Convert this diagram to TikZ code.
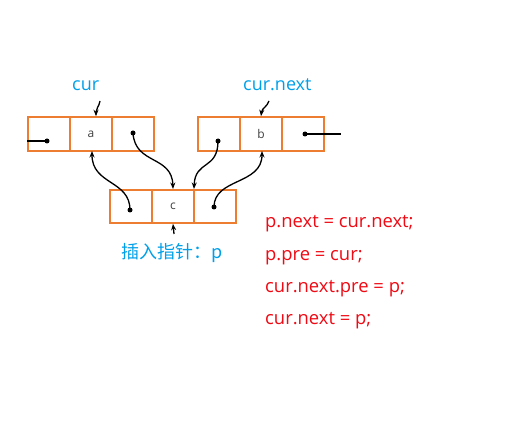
\documentclass[tikz,border=0pt]{standalone}
\usepackage{fontspec}
\setmainfont{Open Sans}
\newfontfamily\cjkfont{Noto Sans CJK SC}
\usetikzlibrary{arrows.meta}
\definecolor{boxorange}{RGB}{237,125,49}
\definecolor{lblblue}{RGB}{0,160,233}
\definecolor{codered}{RGB}{240,10,20}
\begin{document}
\begin{tikzpicture}[x=1pt,y=-1pt,
  cell/.style={draw=boxorange,line width=1.6pt,minimum width=42pt,minimum height=34pt,inner sep=0pt,font=\fontsize{12}{12}\selectfont,text=black!75},
  ptr/.style={line width=1.3pt,-{Stealth[length=6.5pt,width=5pt]}},
  plainline/.style={line width=1.3pt},
  dotc/.style={fill=black},
  bluelbl/.style={text=lblblue,font=\fontsize{18}{18}\selectfont,anchor=base west,inner sep=0pt},
  codeline/.style={text=codered,font=\fontsize{18.4}{18.4}\selectfont,anchor=base west,inner sep=0pt}]
\useasboundingbox[fill=white] (0,0) rectangle (518,435);
% node a
\node[cell] (a1) at (49,134) {};
\node[cell] (a2) at (91,134) {a};
\node[cell] (a3) at (133,134) {};
% node b
\node[cell] (b1) at (219,134) {};
\node[cell] (b2) at (261,134) {b};
\node[cell] (b3) at (303,134) {};
% node c
\node[cell,minimum height=33pt] (c1) at (131,206.5) {};
\node[cell,minimum height=33pt] (c2) at (173,206.5) {c};
\node[cell,minimum height=33pt] (c3) at (215,206.5) {};
% labels
\node[bluelbl] (curlbl) at (72,91) {cur};
\node[bluelbl] (nextlbl) at (243,91) {cur.next};
\node[bluelbl] (plbl) at (121,258) {\cjkfont 插入指针：p};
% code
\node[codeline] (l1) at (265,228) {p.next = cur.next;};
\node[codeline] (l2) at (265,260) {p.pre = cur;};
\node[codeline] (l3) at (265,292) {cur.next.pre = p;};
\node[codeline] (l4) at (265,324) {cur.next = p;};
% dots
\coordinate (da1) at (47,141);
\coordinate (da3) at (133,133);
\coordinate (db1) at (218,141);
\coordinate (db3) at (305,134);
\coordinate (dc1) at (130,210);
\coordinate (dc3) at (214,207);
\foreach \d in {da1,da3,db1,db3,dc1,dc3} \fill[dotc] (\d) circle (2.5pt);
% free ends
\coordinate (la) at (27,141);
\coordinate (rb) at (341,134);
\draw[plainline] (la) -- (da1);
\draw[plainline] (db3) -- (rb);
% tips
\coordinate (ta2) at (92,151);
\coordinate (tb2) at (262,151);
\coordinate (tc2) at (173,189);
\coordinate (tc3) at (194,189);
% curved pointers
\draw[ptr] (dc1) .. controls (130,180) and (92,185) .. (ta2);
\draw[ptr] (da3) .. controls (135,165) and (172,155) .. (tc2);
\draw[ptr] (db1) .. controls (218,170) and (195,160) .. (tc3);
\draw[ptr] (dc3) .. controls (214,178) and (262,185) .. (tb2);
% small label pointers
\coordinate (cs) at (100,101);
\coordinate (ns) at (269,101);
\coordinate (ps) at (174,234);
\draw[ptr] (cs) .. controls (99,107) and (96,108) .. ([xshift=5pt]a2.north);
\draw[ptr] (ns) .. controls (267,107) and (262,108) .. (b2.north);
\draw[ptr] (ps) -- (c2.south);
\end{tikzpicture}
\end{document}
